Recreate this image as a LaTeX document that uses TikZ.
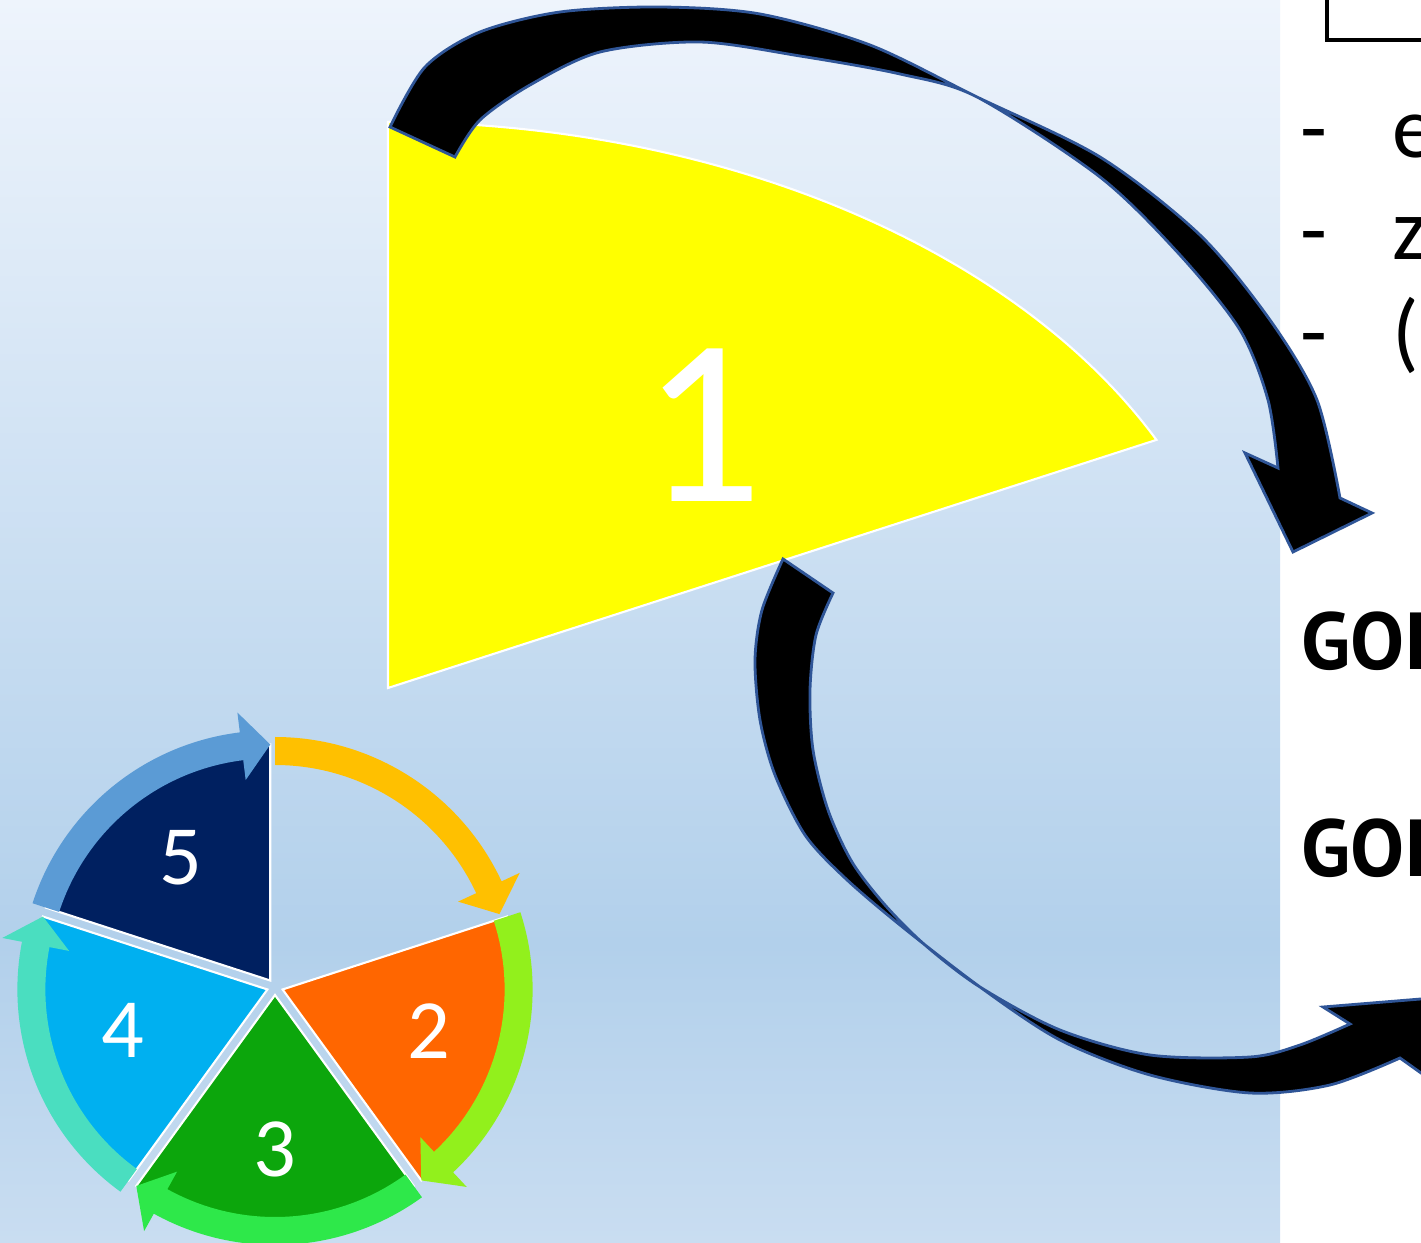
\documentclass[tikz,border=0pt]{standalone}
\usepackage{fontspec}
\setmainfont{Carlito}
\newfontfamily\headfont{PT Sans}
\usetikzlibrary{calc}

\definecolor{bgtop}{RGB}{238,244,252}
\definecolor{bgmid}{RGB}{178,208,235}
\definecolor{bgbot}{RGB}{201,221,241}
\definecolor{bigyellow}{RGB}{255,255,0}
\definecolor{arrowedge}{RGB}{47,85,151}
\definecolor{slicenavy}{RGB}{0,32,96}
\definecolor{slicecyan}{RGB}{0,176,240}
\definecolor{slicegreen}{RGB}{12,166,12}
\definecolor{sliceorange}{RGB}{255,102,0}
\definecolor{bandamber}{RGB}{255,192,0}
\definecolor{bandlime}{RGB}{146,240,28}
\definecolor{bandgreen}{RGB}{46,232,74}
\definecolor{bandteal}{RGB}{74,222,192}
\definecolor{bandblue}{RGB}{91,155,213}

\pgfdeclareverticalshading{bgfade}{100bp}{color(0bp)=(bgbot); color(25bp)=(bgbot); color(37bp)=(bgmid); color(75bp)=(bgtop); color(100bp)=(bgtop)}

\tikzset{
    bigarrow/.style={fill=black, draw=arrowedge, line width=1.6pt, line join=miter},
    slicebox/.style={draw=white, line width=1.2pt},
    bignum/.style={text=white, inner sep=0pt, font=\fontsize{135}{135}\selectfont},
    pienum/.style={text=white, inner sep=0pt, font=\fontsize{48}{48}\selectfont},
    listtext/.style={inner sep=0pt, anchor=base west, font=\fontsize{50}{50}\selectfont},
    headtext/.style={inner sep=0pt, anchor=base west, font=\headfont\fontsize{46}{46}\selectfont\bfseries}
}

% slice of the small cycle: fill, from, to, explode
\newcommand{\pieslice}[4]{%
    \filldraw[fill=#1, slicebox, shift={(#4)}] (0,0) -- (#2:236) arc[start angle=#2, end angle=#3, radius=236] -- cycle;}
% arrow band round a slice: colour, from, to, explode
\newcommand{\cyclearc}[4]{%
    \fill[#1, shift={(#4)}] (#2:222) arc[start angle=#2, end angle=#3+7, radius=222]
        -- (#3+7:202) -- (#3:236) -- (#3+7:270) -- (#3+7:250)
        arc[start angle=#3+7, end angle=#2, radius=250] -- cycle;}

\begin{document}
\begin{tikzpicture}[x=0.02cm, y=0.02cm]
    \useasboundingbox (0,0) rectangle (1421,1242);
    \clip (0,0) rectangle (1421,1242);
    \fill[white] (0,0) rectangle (1421,1242);
    \shade[shading=bgfade] (0,0) rectangle (1280,1242);

    % big slice
    \filldraw[fill=bigyellow, slicebox] (388,554) -- (388,1120) arc[start angle=90, end angle=26, x radius=855, y radius=566] -- cycle;
    \node[bignum] (one) at (703,817) {1};

    % curved arrows
    \filldraw[bigarrow] plot[smooth] coordinates {(390,1115) (425,1175) (480,1210) (560,1230) (660,1235) (760,1228) (870,1197) (977,1145) (1100,1085) (1200,1007) (1270,922) (1317,842) (1340,744)}
        -- (1372,729) -- (1293,690) -- (1245,789)
        -- plot[smooth] coordinates {(1278,774) (1268,842) (1240,912) (1180,987) (1100,1065) (977,1145) (900,1168) (800,1186) (700,1200) (600,1190) (530,1157) (480,1122) (455,1085)} -- cycle;
    \filldraw[bigarrow] plot[smooth] coordinates {(783,683) (762,632) (755,582) (760,522) (775,467) (805,407) (845,364) (900,317) (980,255) (1060,202) (1150,167) (1250,149) (1330,157) (1400,184)}
        -- (1435,159) -- (1445,245) -- (1323,235)
        -- plot[smooth] coordinates {(1350,218) (1300,197) (1250,185) (1150,187) (1060,212) (980,255) (925,297) (885,337) (852,380) (828,432) (813,492) (810,552) (816,607) (833,649)} -- cycle;

    % small cycle
    \begin{scope}[shift={(275,255)}]
        \pieslice{sliceorange}{18}{-54}{-18:8}
        \pieslice{slicegreen}{-54}{-126}{-90:8}
        \pieslice{slicecyan}{-126}{-198}{-162:8}
        \pieslice{slicenavy}{162}{90}{126:8}
        \cyclearc{bandamber}{90}{18}{0,0}
        \cyclearc{bandlime}{18}{-54}{-18:8}
        \cyclearc{bandgreen}{-54}{-126}{-90:8}
        \cyclearc{bandteal}{234}{162}{198:8}
        \cyclearc{bandblue}{162}{90}{126:8}
        \node[pienum] (two) at (-16:160) {2};
        \node[pienum] (three) at (-90:162) {3};
        \node[pienum] (four) at (-164:158) {4};
        \node[pienum] (five) at (126:160) {5};
    \end{scope}

    % text on the right
    \draw[line width=2.3pt] (1327,1260) |- (1440,1202);
    \node[listtext] (dash1) at (1300,1084) {-};
    \node[listtext] (item1) at (1392,1084) {e};
    \node[listtext] (dash2) at (1300,982) {-};
    \node[listtext] (item2) at (1392,982) {z};
    \node[listtext] (dash3) at (1300,880) {-};
    \node[listtext] (item3) at (1392,880) {(};
    \node[headtext] (goal1) at (1301,572) {GOI};
    \node[headtext] (goal2) at (1301,365) {GOI};
\end{tikzpicture}
\end{document}
